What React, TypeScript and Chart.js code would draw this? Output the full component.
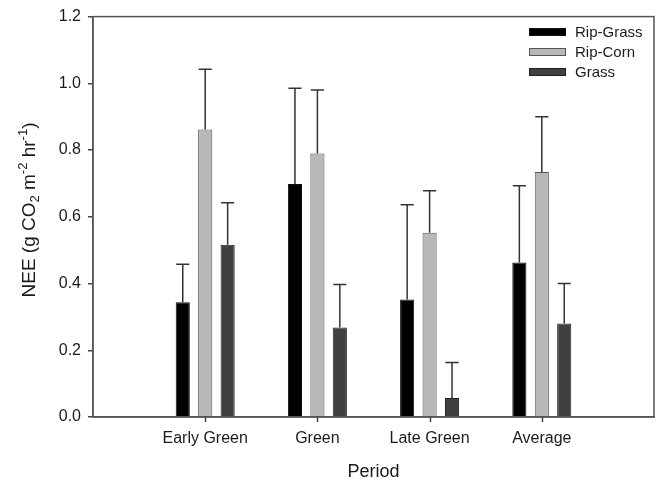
import React, { useEffect, useRef } from "react";
import { Chart, registerables } from "chart.js";

Chart.register(...registerables);

const categories = ["Early Green", "Green", "Late Green", "Average"];
const seriesNames = ["Rip-Grass", "Rip-Corn", "Grass"];
const ripGrass = [0.344, 0.698, 0.352, 0.463];
const ripGrassErr = [0.458, 0.985, 0.636, 0.693];
const ripCorn = [0.862, 0.79, 0.552, 0.734];
const ripCornErr = [1.042, 0.98, 0.678, 0.9];
const grass = [0.516, 0.268, 0.057, 0.28];
const grassErr = [0.642, 0.397, 0.163, 0.4];
const yTicks = [0, 0.2, 0.4, 0.6, 0.8, 1.0, 1.2];

const fills = ["#000000", "#b8b8b8", "#404040"];
const borders = ["#111111", "#555555", "#222222"];
const FONT = "Arial, 'Liberation Sans', Helvetica, sans-serif";
const TEXT = "#1a1a1a";

export default function App() {
  const ref = useRef<HTMLCanvasElement | null>(null);

  useEffect(() => {
    document.body.style.margin = "0";
    const canvas = ref.current;
    if (!canvas) return;
    const pad = (a: number[]) => [null, ...a, null];
    const errs = [ripGrassErr, ripCornErr, grassErr];

    const errorBars = {
      id: "errorBars",
      afterDatasetsDraw(chart: any) {
        const ctx = chart.ctx;
        const y = chart.scales.y;
        ctx.save();
        ctx.strokeStyle = "#333333";
        ctx.lineWidth = 1.5;
        chart.data.datasets.forEach((ds: any, di: number) => {
          const meta = chart.getDatasetMeta(di);
          meta.data.forEach((bar: any, i: number) => {
            const v = ds.data[i];
            if (v == null) return;
            const e = errs[di][i - 1];
            const yt = y.getPixelForValue(e);
            const half = (bar.width || 14) / 2 - 0.5;
            ctx.beginPath();
            ctx.moveTo(bar.x, bar.y);
            ctx.lineTo(bar.x, yt);
            ctx.moveTo(bar.x - half, yt);
            ctx.lineTo(bar.x + half, yt);
            ctx.stroke();
          });
        });
        ctx.restore();
      },
    };

    const frame = {
      id: "frame",
      afterDraw(chart: any) {
        const { ctx, chartArea: a } = chart;
        ctx.save();
        ctx.strokeStyle = "#555555";
        ctx.lineWidth = 1.5;
        ctx.strokeRect(a.left, a.top, a.right - a.left, a.bottom - a.top);
        // x tick marks at the category positions
        const xs = chart.scales.x;
        ctx.strokeStyle = "#444444";
        ctx.beginPath();
        for (let i = 1; i <= categories.length; i++) {
          const px = Math.round(xs.getPixelForTick(i)) + 0.5;
          ctx.moveTo(px, a.bottom);
          ctx.lineTo(px, a.bottom + 5);
        }
        ctx.stroke();
        // legend
        ctx.font = `15px ${FONT}`;
        ctx.textBaseline = "middle";
        ctx.fillStyle = TEXT;
        seriesNames.forEach((n, i) => {
          const yy = 32 + 20 * i;
          ctx.fillStyle = fills[i];
          ctx.fillRect(529, yy - 4, 37, 8);
          ctx.strokeStyle = borders[i];
          ctx.lineWidth = 1;
          ctx.strokeRect(529.5, yy - 3.5, 36, 7);
          ctx.fillStyle = TEXT;
          ctx.fillText(n, 575, yy + 1);
        });
        // y title with sub/superscripts
        ctx.translate(28, 210);
        ctx.rotate(-Math.PI / 2);
        const parts: [string, number][] = [
          ["NEE (g CO", 0],
          ["2", 1],
          [" m", 0],
          ["-2", -1],
          [" hr", 0],
          ["-1", -1],
          [")", 0],
        ];
        const big = `19px ${FONT}`;
        const small = `13px ${FONT}`;
        let w = 0;
        parts.forEach(([t, k]) => {
          ctx.font = k === 0 ? big : small;
          w += ctx.measureText(t).width;
        });
        let x = -w / 2;
        ctx.textAlign = "left";
        ctx.textBaseline = "alphabetic";
        parts.forEach(([t, k]) => {
          ctx.font = k === 0 ? big : small;
          const dy = k === 1 ? 4 : k === -1 ? -8 : 0;
          ctx.fillText(t, x, 7 + dy);
          x += ctx.measureText(t).width;
        });
        ctx.restore();
      },
    };

    const chart = new Chart(canvas, {
      type: "bar",
      data: {
        labels: ["", ...categories, ""],
        datasets: [ripGrass, ripCorn, grass].map((d, i) => ({
          label: seriesNames[i],
          data: pad(d),
          backgroundColor: fills[i],
          borderColor: borders[i],
          borderWidth: 1,
          categoryPercentage: 0.6,
          barPercentage: 0.63,
        })),
      },
      options: {
        animation: false,
        responsive: false,
        layout: { padding: { left: 0, right: 5, top: 14, bottom: 0 } },
        plugins: { legend: { display: false }, tooltip: { enabled: false } },
        scales: {
          x: {
            offset: false,
            grid: {
              offset: false,
              drawOnChartArea: false,
              tickLength: 5,
              tickColor: "rgba(0,0,0,0)",
              color: "rgba(0,0,0,0)",
            },
            border: { color: "#555555", width: 1.5 },
            ticks: { font: { family: FONT, size: 16 }, color: TEXT, padding: 7, maxRotation: 0, autoSkip: false },
            title: { display: true, text: "Period", font: { family: FONT, size: 18 }, color: TEXT, padding: { top: 11, bottom: 0 } },
            afterFit: (s: any) => {
              s.height = 66;
            },
          },
          y: {
            min: 0,
            max: 1.2,
            afterBuildTicks: (s: any) => {
              s.ticks = yTicks.map((v) => ({ value: v }));
            },
            grid: { drawOnChartArea: false, tickLength: 5, color: "#444", lineWidth: 1.5 },
            border: { color: "#555555", width: 1.5 },
            ticks: {
              font: { family: FONT, size: 16 },
              color: TEXT,
              padding: 7,
              callback: (v: any) => Number(v).toFixed(1),
            },
            afterFit: (s: any) => {
              s.width = 93;
            },
          },
        },
      },
      plugins: [errorBars, frame],
    });
    return () => chart.destroy();
  }, []);

  return (
    <div style={{ width: 661, height: 483, position: "relative" }}>
      <canvas ref={ref} width={661} height={483} style={{ display: "block" }} />
    </div>
  );
}
